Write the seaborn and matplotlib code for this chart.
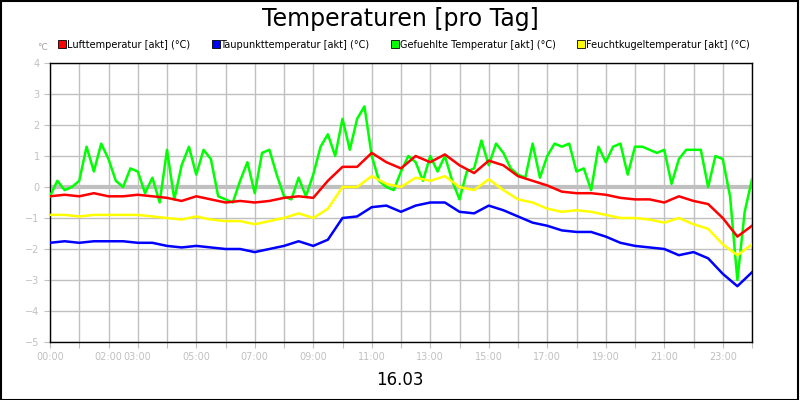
import numpy as np
import pandas as pd
import seaborn as sns
import matplotlib
matplotlib.use("Agg")
import matplotlib.pyplot as plt
from matplotlib.lines import Line2D

t_half = [i * 0.5 for i in range(49)]
t_q = [i * 0.25 for i in range(97)]

luft = [-0.3, -0.25, -0.3, -0.2, -0.3, -0.3, -0.25, -0.3, -0.35, -0.45, -0.3, -0.4, -0.5, -0.45,
        -0.5, -0.45, -0.35, -0.3, -0.35, 0.2, 0.65, 0.65, 1.1, 0.8, 0.6, 1.0, 0.8, 1.05, 0.7, 0.45,
        0.85, 0.7, 0.35, 0.2, 0.05, -0.15, -0.2, -0.2, -0.25, -0.35, -0.4, -0.4, -0.5, -0.3, -0.45,
        -0.55, -1.0, -1.6, -1.25]
taupunkt = [-1.8, -1.75, -1.8, -1.75, -1.75, -1.75, -1.8, -1.8, -1.9, -1.95, -1.9, -1.95, -2.0,
            -2.0, -2.1, -2.0, -1.9, -1.75, -1.9, -1.7, -1.0, -0.95, -0.65, -0.6, -0.8, -0.6, -0.5,
            -0.5, -0.8, -0.85, -0.6, -0.75, -0.95, -1.15, -1.25, -1.4, -1.45, -1.45, -1.6, -1.8,
            -1.9, -1.95, -2.0, -2.2, -2.1, -2.3, -2.8, -3.2, -2.75]
feucht = [-0.9, -0.9, -0.95, -0.9, -0.9, -0.9, -0.9, -0.95, -1.0, -1.05, -0.95, -1.05, -1.1, -1.1,
          -1.2, -1.1, -1.0, -0.85, -1.0, -0.7, 0.0, 0.0, 0.35, 0.1, 0.0, 0.3, 0.2, 0.35, 0.0, -0.1,
          0.25, -0.1, -0.4, -0.5, -0.7, -0.8, -0.75, -0.8, -0.9, -1.0, -1.0, -1.05, -1.15, -1.0,
          -1.2, -1.35, -1.85, -2.2, -1.85]
gefuehlt = [-0.3, 0.2, -0.1, 0.0, 0.2, 1.3, 0.5, 1.4, 0.9, 0.2, 0.0, 0.6, 0.5, -0.2, 0.3, -0.5,
            1.2, -0.4, 0.7, 1.3, 0.4, 1.2, 0.9, -0.3, -0.4, -0.5, 0.2, 0.8, -0.2, 1.1, 1.2, 0.4,
            -0.3, -0.4, 0.3, -0.3, 0.4, 1.3, 1.7, 1.0, 2.2, 1.2, 2.2, 2.6, 1.0, 0.2, 0.0, -0.1,
            0.5, 1.0, 0.8, 0.2, 1.0, 0.5, 1.0, 0.2, -0.4, 0.5, 0.6, 1.5, 0.7, 1.4, 1.1, 0.6,
            0.4, 0.3, 1.4, 0.3, 1.0, 1.4, 1.3, 1.4, 0.5, 0.6, -0.1, 1.3, 0.8, 1.3, 1.4, 0.4,
            1.3, 1.3, 1.2, 1.1, 1.2, 0.1, 0.9, 1.2, 1.2, 1.2, 0.0, 1.0, 0.9, -0.3, -3.0, -0.8, 0.25]

names = ["Lufttemperatur [akt] (°C)", "Taupunkttemperatur [akt] (°C)",
         "Gefuehlte Temperatur [akt] (°C)", "Feuchtkugeltemperatur [akt] (°C)"]
colors = ["#ff0000", "#0000ff", "#00ff00", "#ffff00"]
tick_labels = ["00:00", "", "02:00", "03:00", "", "05:00", "", "07:00", "", "09:00", "", "11:00", "",
               "13:00", "", "15:00", "", "17:00", "", "19:00", "", "21:00", "", "23:00", ""]

fig = plt.figure(figsize=(8, 4), dpi=100)
ax = fig.add_axes([0.0625, 0.145, 0.8775, 0.6975])
ax.set_facecolor("white")
series = [(t_half, luft), (t_half, taupunkt), (t_q, gefuehlt), (t_half, feucht)]
order = [2, 3, 0, 1]
for i in order:
    x, y = series[i]
    sns.lineplot(x=x, y=y, ax=ax, color=colors[i], linewidth=1.8, zorder=3)

ax.set_xlim(0, 24)
ax.set_ylim(-5, 4)
ax.set_xticks(range(25))
ax.set_xticklabels(tick_labels)
ax.set_yticks(range(-5, 5))
ax.grid(True, color="#c0c0c0", linewidth=1, zorder=0)
ax.axhline(0, color="#c0c0c0", linewidth=3, zorder=1)
ax.tick_params(colors="#c0c0c0", labelsize=7, length=4)
for s in ax.spines.values():
    s.set_color("black")
    s.set_linewidth(1)
ax.set_xlabel("")
ax.set_ylabel("")

fig.text(0.5, 0.953, "Temperaturen [pro Tag]", ha="center", va="center", fontsize=17)
fig.text(0.046, 0.88, "°C", ha="left", va="center", fontsize=6.5, color="#a0a0a0")
fig.text(0.5, 0.05, "16.03", ha="center", va="center", fontsize=12)
handles = [Line2D([], [], marker="s", linestyle="", markersize=6, markerfacecolor=c,
                  markeredgecolor="black", markeredgewidth=0.6) for c in colors]
fig.legend(handles, names, loc="center", bbox_to_anchor=(0.505, 0.888), ncol=4, frameon=False,
           fontsize=7, handletextpad=0.1, columnspacing=2.2, handlelength=0.8)
fig.patches.append(plt.Rectangle((0.001, 0.001), 0.997, 0.997, transform=fig.transFigure,
                                 fill=False, edgecolor="black", linewidth=1.5))
fig.savefig("out.png", dpi=100)
